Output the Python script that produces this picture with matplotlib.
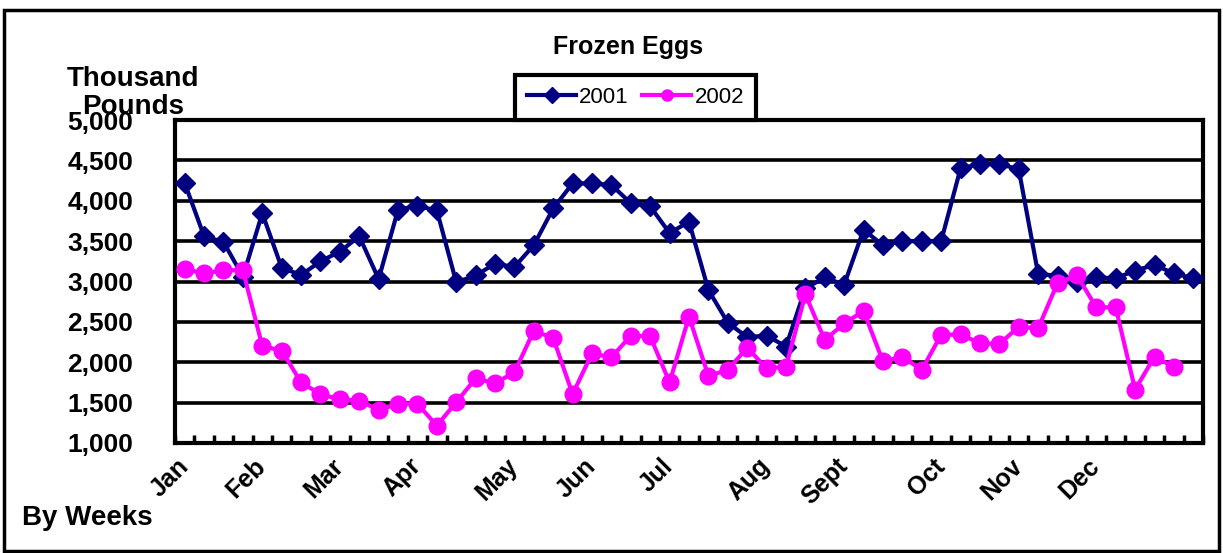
import matplotlib.pyplot as plt
import numpy as np
from matplotlib.ticker import FuncFormatter
from matplotlib.patches import Rectangle

# Global
plt.rcParams['font.family'] = ['Liberation Sans', 'DejaVu Sans']
plt.rcParams['font.weight'] = 'bold'

# Data (thousand pounds, by weeks)
months = ['Jan', 'Feb', 'Mar', 'Apr', 'May', 'Jun', 'Jul', 'Aug', 'Sept', 'Oct', 'Nov', 'Dec']
month_week = [0, 4, 8, 12, 17, 21, 25, 30, 34, 39, 43, 47]
eggs_2001 = [4220, 3560, 3490, 3060, 3845, 3170, 3080, 3250, 3370, 3560,
             3030, 3890, 3935, 3880, 2990, 3075, 3220, 3180, 3450, 3905,
             4215, 4215, 4195, 3970, 3930, 3600, 3740, 2895, 2490, 2310,
             2330, 2195, 2915, 3050, 2960, 3640, 3450, 3500, 3500, 3500,
             4400, 4455, 4455, 4390, 3095, 3070, 3000, 3050, 3040, 3135,
             3205, 3100, 3040]
eggs_2002 = [3155, 3100, 3140, 3140, 2200, 2145, 1750, 1605, 1540, 1525,
             1410, 1485, 1485, 1215, 1505, 1800, 1740, 1875, 2390, 2300,
             1605, 2110, 2060, 2330, 2320, 1750, 2565, 1830, 1905, 2180,
             1925, 1945, 2840, 2275, 2480, 2635, 2010, 2070, 1905, 2340,
             2345, 2235, 2225, 2440, 2420, 2980, 3075, 2680, 2680, 1660,
             2070, 1940]
y_ticks = [1000, 1500, 2000, 2500, 3000, 3500, 4000, 4500, 5000]

fig = plt.figure(figsize=(12.23, 5.53), dpi=100)
ax = fig.add_axes([175 / 1223, 110 / 553, 1028 / 1223, 323 / 553])

# grid
for v in y_ticks[1:-1]:
    ax.axhline(v, color='black', linewidth=2.6, zorder=1)

# curves
ax.plot(np.arange(len(eggs_2001)), eggs_2001, color='#000080', linewidth=3,
        marker='D', markersize=10, label='2001', zorder=3)
ax.plot(np.arange(len(eggs_2002)), eggs_2002, color='#FF00FF', linewidth=3,
        marker='o', markersize=12, label='2002', zorder=4)

# axis
ax.set_xlim(-0.5, len(eggs_2001) - 0.5)
ax.set_ylim(1000, 5000)
ax.set_yticks(y_ticks)
ax.yaxis.set_major_formatter(FuncFormatter(lambda v, p: f'{int(v):,}'))
ax.tick_params(axis='y', length=0, pad=30, labelsize=19)
ax.set_xticks(month_week, months, rotation=45, ha='right', va='center',
              rotation_mode='anchor', fontsize=18)
ax.tick_params(axis='x', which='major', length=0, pad=14)
ax.set_xticks(np.arange(-0.5, len(eggs_2001), 1), minor=True)
ax.tick_params(axis='x', which='minor', direction='in', length=6, width=2.5)
for s in ax.spines.values():
    s.set_linewidth(3)

fig.text(628 / 1223, 1 - 47 / 553, 'Frozen Eggs', ha='center', va='center',
         fontsize=18, fontweight='bold')
leg = ax.legend(loc='lower center', bbox_to_anchor=(0.448, 1.0), ncol=2,
                frameon=True, fancybox=False, framealpha=1, handlelength=2.2,
                handletextpad=0.15, columnspacing=0.6, borderpad=0.55,
                borderaxespad=0, prop={'weight': 'normal', 'size': 16})
leg.get_frame().set_edgecolor('black')
leg.get_frame().set_linewidth(3)
for h in leg.legend_handles:
    h.set_markersize(8)

fig.text(133 / 1223, 1 - 93 / 553, 'Thousand\nPounds', ha='center', va='center',
         fontsize=20, fontweight='bold', linespacing=1.05)
fig.text(22 / 1223, 1 - 518 / 553, 'By Weeks', ha='left', va='center',
         fontsize=20, fontweight='bold')

# outer frame
fig.patches.append(Rectangle((4 / 1223, 2 / 553), 1215 / 1223, 541 / 553,
                             transform=fig.transFigure, fill=False,
                             edgecolor='black', linewidth=2.5))

fig.savefig('out.png', dpi=100)
